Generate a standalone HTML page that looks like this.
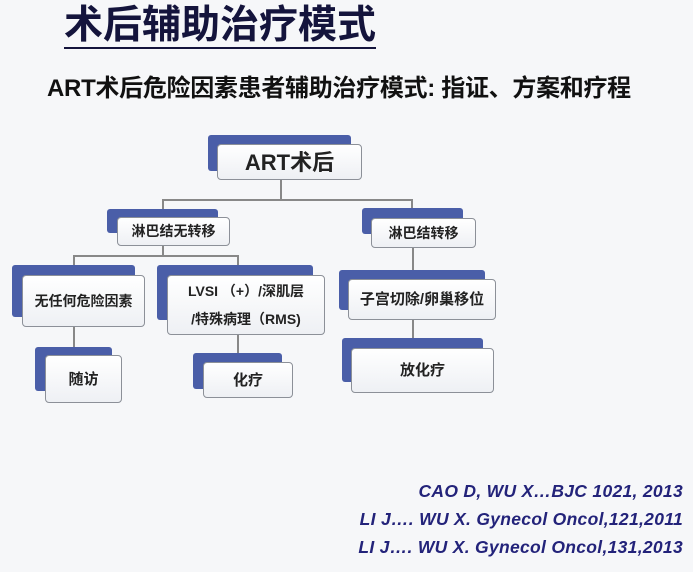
<!DOCTYPE html>
<html><head><meta charset="utf-8"><style>
body{margin:0;width:693px;height:572px;background:#f6f7f9;position:relative;overflow:hidden;font-family:"Liberation Sans","Noto Sans CJK SC",sans-serif;}
.a{position:absolute}
.b{position:absolute;background:#4a5ea8;border-radius:3px}
.f{position:absolute;background:linear-gradient(#fff,#eef0f4);border:1.5px solid #8c9098;border-radius:4px;box-sizing:border-box;display:flex;align-items:center;justify-content:center;text-align:center;font-weight:bold;color:#222;font-size:14px;line-height:23px}
.h{position:absolute;background:#888;height:1.5px}
.v{position:absolute;background:#888;width:1.5px}
.r{position:absolute;right:10px;font-style:italic;font-weight:bold;color:#23237a;font-size:17.5px;white-space:nowrap;letter-spacing:0.3px}
</style></head><body>
<div class="a" style="left:64px;top:4px;font-size:39px;font-weight:bold;color:#14143c;white-space:nowrap;line-height:43px;border-bottom:2.5px solid #14143c;">术后辅助治疗模式</div>
<div class="a" style="left:47px;top:74px;font-size:24px;font-weight:bold;color:#111;white-space:nowrap;line-height:30px;letter-spacing:-0.3px">ART术后危险因素患者辅助治疗模式: 指证、方案和疗程</div>

<!-- lines -->
<div class="v" style="left:280px;top:179px;height:20px"></div>
<div class="h" style="left:162px;top:199px;width:250px"></div>
<div class="v" style="left:162px;top:199px;height:12px"></div>
<div class="v" style="left:411px;top:199px;height:12px"></div>
<div class="v" style="left:162px;top:246px;height:9px"></div>
<div class="h" style="left:73px;top:255px;width:165px"></div>
<div class="v" style="left:73px;top:255px;height:12px"></div>
<div class="v" style="left:237px;top:255px;height:12px"></div>
<div class="v" style="left:73px;top:327px;height:22px"></div>
<div class="v" style="left:237px;top:335px;height:20px"></div>
<div class="v" style="left:412px;top:248px;height:24px"></div>
<div class="v" style="left:412px;top:320px;height:20px"></div>

<div class="b" style="left:208px;top:135px;width:143px;height:36px"></div>
<div class="f" style="left:217px;top:144px;width:145px;height:36px;font-size:22px">ART术后</div>

<div class="b" style="left:107px;top:209px;width:111px;height:24px"></div>
<div class="f" style="left:117px;top:217px;width:113px;height:29px">淋巴结无转移</div>

<div class="b" style="left:362px;top:208px;width:101px;height:26px"></div>
<div class="f" style="left:371px;top:218px;width:105px;height:30px">淋巴结转移</div>

<div class="b" style="left:12px;top:265px;width:123px;height:52px"></div>
<div class="f" style="left:22px;top:275px;width:123px;height:52px">无任何危险因素</div>

<div class="b" style="left:157px;top:265px;width:156px;height:55px"></div>
<div class="f" style="left:167px;top:275px;width:158px;height:60px;line-height:28px">LVSI （+）/深肌层<br>/特殊病理（RMS)</div>

<div class="b" style="left:339px;top:270px;width:146px;height:40px"></div>
<div class="f" style="left:348px;top:279px;width:148px;height:41px;font-size:15px">子宫切除/卵巢移位</div>

<div class="b" style="left:35px;top:347px;width:77px;height:44px"></div>
<div class="f" style="left:45px;top:355px;width:77px;height:48px;font-size:15px">随访</div>

<div class="b" style="left:193px;top:353px;width:89px;height:36px"></div>
<div class="f" style="left:203px;top:362px;width:90px;height:36px;font-size:15px">化疗</div>

<div class="b" style="left:342px;top:338px;width:141px;height:44px"></div>
<div class="f" style="left:351px;top:348px;width:143px;height:45px;font-size:15px">放化疗</div>

<div class="r" style="top:481px">CAO D, WU X…BJC 1021, 2013</div>
<div class="r" style="top:509px">LI J…. WU X. Gynecol Oncol,121,2011</div>
<div class="r" style="top:537px">LI J…. WU X. Gynecol Oncol,131,2013</div>
</body></html>
